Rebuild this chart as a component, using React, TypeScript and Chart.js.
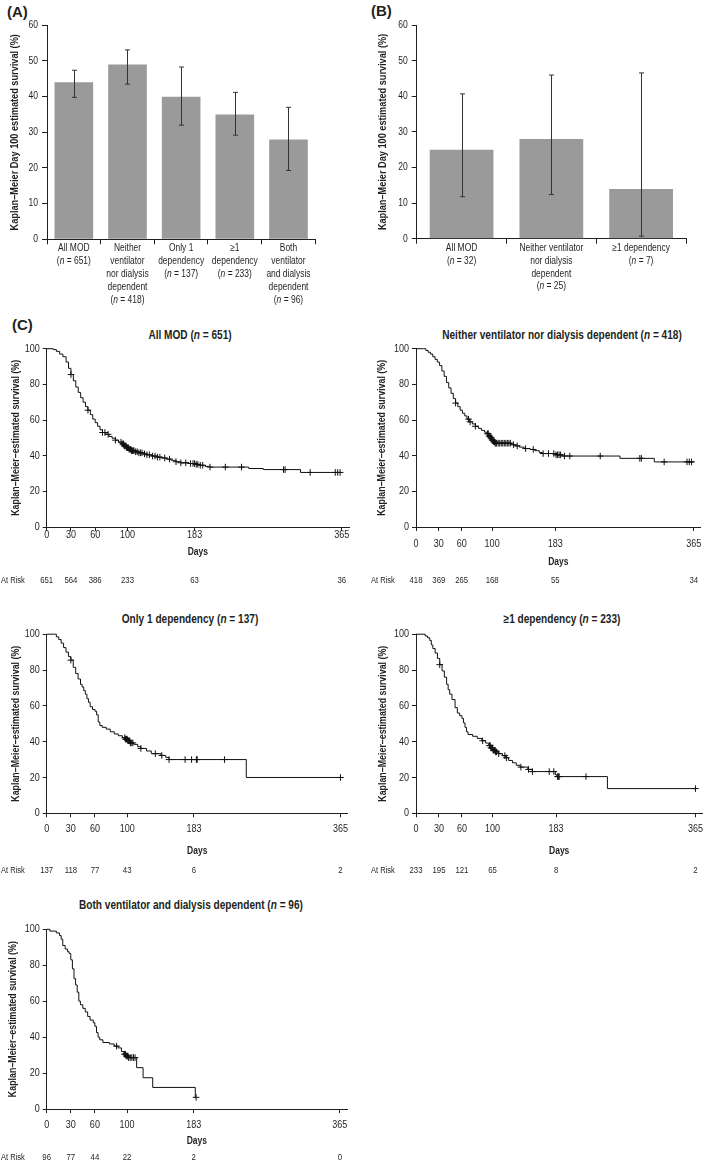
import React, { useEffect, useRef } from 'react';
import { Chart, registerables } from 'chart.js';
Chart.register(...registerables);

const FONT = '"Liberation Sans", Arial, Helvetica, sans-serif';
const INK = '#231f20';
const BAR = '#9a9a9a';
const SX = 0.82; // horizontal condensing of text (Helvetica Condensed look)

// ---------- Panel A ----------
const catsA = [
  ['All MOD', '(n = 651)'],
  ['Neither', 'ventilator', 'nor dialysis', 'dependent', '(n = 418)'],
  ['Only 1', 'dependency', '(n = 137)'],
  ['≥1', 'dependency', '(n = 233)'],
  ['Both', 'ventilator', 'and dialysis', 'dependent', '(n = 96)'],
];
const survA = [44, 49, 40, 35, 28];
const lowA = [39.8, 43.5, 32, 29.2, 19.3];
const highA = [47.4, 53.1, 48.3, 41.2, 37];

// ---------- Panel B ----------
const catsB = [
  ['All MOD', '(n = 32)'],
  ['Neither ventilator', 'nor dialysis', 'dependent', '(n = 25)'],
  ['≥1 dependency', '(n = 7)'],
];
const survB = [25, 28, 14];
const lowB = [11.8, 12.4, 0.7];
const highB = [40.7, 46, 46.6];

// ---------- Panel C ----------
const dayTicks = [0, 30, 60, 100, 183, 365];

const allModDays = [0, 8, 12, 16, 20, 24, 27, 30, 33, 36, 39, 42, 45, 48, 51, 54, 57, 60, 63, 66, 69, 73, 77, 81, 85, 89, 93, 96, 99, 102, 105, 109, 114, 119, 124, 130, 136, 142, 148, 154, 160, 166, 176, 184, 190, 196, 202, 250, 268, 314, 365];
const allModSurv = [100, 99.5, 98.5, 97, 95.5, 92.5, 89, 85.5, 82, 78.5, 75.5, 72.5, 70, 67.5, 65.5, 63, 60.5, 58.5, 56.5, 54.5, 53, 52, 50.8, 49.8, 48.7, 47.6, 46.6, 45.5, 44.5, 43.6, 42.8, 42.2, 41.6, 41, 40.5, 39.8, 39.2, 38.7, 38.1, 37.4, 36.6, 36, 35.6, 35.1, 34.6, 34, 33.6, 32.8, 32.2, 30.6, 30.6];
const allModCensor = [30, 51, 69, 72, 76, 85, 92, 94, 95, 96, 97, 98, 99, 100, 101, 102, 103, 104, 105, 106, 107, 108, 110, 112, 114, 116, 118, 121, 124, 127, 131, 134, 137, 140, 146, 152, 160, 166, 172, 178, 181, 183, 185, 187, 190, 193, 202, 221, 241, 293, 295, 326, 357, 360, 363];
const allModRisk = [651, 564, 386, 233, 63, 36];

const neitherDays = [0, 10, 13, 16, 19, 22, 25, 28, 31, 34, 37, 40, 43, 46, 49, 52, 55, 58, 61, 64, 67, 70, 74, 78, 82, 86, 90, 93, 96, 98, 100, 102, 104, 125, 130, 136, 142, 150, 156, 162, 166, 184, 192, 268, 313, 365];
const neitherSurv = [100, 100, 99, 98, 97, 95.5, 94, 92.5, 90.5, 87.5, 84.5, 81, 78, 75, 72, 69.5, 67.5, 65.5, 63.8, 62.3, 60.5, 59, 57.8, 56.5, 55.3, 54.2, 53.2, 52.3, 51, 50, 48.8, 47.8, 47, 46.2, 45.5, 44.8, 44, 43.5, 42.8, 41.8, 41.2, 40.5, 39.8, 38.5, 36.5, 36.5];
const neitherCensor = [52, 69, 71, 78, 94, 95, 96, 97, 98, 99, 100, 101, 102, 103, 104, 105, 106, 108, 110, 112, 114, 116, 118, 120, 122, 124, 128, 133, 144, 154, 167, 174, 181, 184, 186, 188, 190, 195, 202, 242, 294, 296, 326, 356, 359, 362];
const neitherRisk = [418, 369, 265, 168, 55, 34];

const only1Days = [0, 10, 12, 15, 18, 21, 24, 27, 30, 33, 36, 39, 42, 44, 46, 48, 50, 52, 54, 57, 60, 62, 64, 66, 69, 74, 79, 84, 89, 94, 98, 101, 104, 108, 113, 117, 124, 130, 142, 148, 152, 248, 365];
const only1Surv = [100, 100, 98.5, 97, 95, 92.5, 90, 87.5, 85.5, 81.5, 78, 75, 72, 70.5, 68.5, 66.5, 64, 62, 59.5, 58, 57, 55, 51, 49, 48, 47, 45.5, 44.3, 43.3, 42.2, 41.4, 40.5, 39.3, 38.5, 37.2, 36.2, 34.8, 33.3, 32.3, 31.2, 30, 20, 20];
const only1Censor = [30, 97, 98, 99, 100, 101, 102, 103, 104, 105, 107, 117, 135, 143, 152, 172, 180, 186, 187, 221, 365];
const only1Risk = [137, 118, 77, 43, 6, 2];

const ge1Days = [0, 12, 15, 18, 20, 22, 25, 28, 31, 34, 37, 40, 42, 44, 47, 51, 54, 57, 60, 62, 64, 66, 68, 74, 80, 86, 91, 95, 98, 101, 104, 108, 113, 117, 121, 126, 131, 136, 146, 152, 182, 184, 250, 365];
const ge1Surv = [100, 99, 98, 96.5, 94, 92, 89.5, 86.5, 83, 79.5, 76, 72, 69, 66.5, 63.5, 59, 56, 54.5, 53, 50.5, 48, 45.5, 44, 43, 41.8, 40.5, 39.2, 37.8, 36.5, 35.2, 34.3, 33.3, 32.2, 31, 29.5, 28.2, 26.8, 25.8, 24.5, 23.3, 21.5, 20.5, 13.8, 13.8];
const ge1Censor = [31, 87, 96, 97, 98, 99, 100, 101, 102, 103, 104, 105, 108, 116, 118, 137, 147, 152, 174, 180, 185, 186, 187, 222, 365];
const ge1Risk = [233, 195, 121, 65, 8, 2];

const bothDays = [0, 4, 12, 16, 18, 20, 23, 26, 28, 30, 32, 34, 36, 38, 40, 42, 45, 48, 51, 54, 58, 60, 62, 64, 66, 70, 78, 84, 89, 93, 96, 99, 102, 112, 120, 132, 185, 186];
const bothSurv = [100, 99, 98, 96.5, 94.5, 91, 89, 87.5, 86.5, 83, 78, 72.5, 69, 65, 60, 58, 56, 54, 51.5, 49.5, 48, 46, 42.5, 40, 38.5, 37, 36.2, 35, 34, 32, 30.5, 29.5, 28.6, 23, 17.4, 12, 6.5, 6.5];
const bothCensor = [87, 97, 98, 99, 100, 101, 102, 104, 106, 108, 110, 186];
const bothRisk = [96, 77, 44, 22, 2, 0];

function survAt(days: number[], surv: number[], t: number) {
  let v = surv[0];
  for (let i = 0; i < days.length; i++) {
    if (days[i] <= t) v = surv[i];
    else break;
  }
  return v;
}

// Draw all canvas text horizontally condensed around its anchor point.
function condense(canvas: HTMLCanvasElement) {
  const ctx = canvas.getContext('2d') as any;
  if (!ctx || ctx.__condensed) return;
  ctx.__condensed = true;
  const fill = ctx.fillText.bind(ctx);
  const measure = ctx.measureText.bind(ctx);
  ctx.fillText = (text: string, x: number, y: number, maxWidth?: number) => {
    ctx.save();
    ctx.translate(x, y);
    ctx.scale(SX, 1);
    if (maxWidth !== undefined && maxWidth !== null) fill(text, 0, 0, maxWidth / SX);
    else fill(text, 0, 0);
    ctx.restore();
  };
  ctx.measureText = (text: string) => {
    const m = measure(text);
    return {
      width: m.width * SX,
      actualBoundingBoxAscent: m.actualBoundingBoxAscent,
      actualBoundingBoxDescent: m.actualBoundingBoxDescent,
      actualBoundingBoxLeft: m.actualBoundingBoxLeft * SX,
      actualBoundingBoxRight: m.actualBoundingBoxRight * SX,
      fontBoundingBoxAscent: m.fontBoundingBoxAscent,
      fontBoundingBoxDescent: m.fontBoundingBoxDescent,
    };
  };
}

function drawRich(ctx: CanvasRenderingContext2D, text: string, x: number, y: number, size: number, weight: string) {
  const base = `${weight} ${size}px ${FONT}`;
  const ital = `italic ${weight} ${size}px ${FONT}`;
  const idx = text.indexOf('(n ');
  const parts: [string, string][] = idx >= 0
    ? [[text.slice(0, idx + 1), base], ['n', ital], [text.slice(idx + 2), base]]
    : [[text, base]];
  let total = 0;
  for (const [s, f] of parts) { ctx.font = f; total += ctx.measureText(s).width; }
  let cx = x - total / 2;
  ctx.textAlign = 'left';
  for (const [s, f] of parts) { ctx.font = f; ctx.fillText(s, cx, y); cx += ctx.measureText(s).width; }
}

type Area = { l: number; t: number; r: number; b: number };

type BarProps = {
  left: number; top: number; width: number; height: number; area: Area;
  cats: string[][]; vals: number[]; lows: number[]; highs: number[];
  barPct: number; firstOff: number; gap: number; yTitleX: number;
};

function BarPanel(p: BarProps) {
  const ref = useRef<HTMLCanvasElement>(null);
  useEffect(() => {
    const { area } = p;
    const yTitleSize = 11.2;
    condense(ref.current!);
    const extras = {
      id: 'barExtras',
      afterDraw(chart: any) {
        const ctx = chart.ctx as CanvasRenderingContext2D;
        const xs = chart.scales.x, ys = chart.scales.y;
        ctx.save();
        ctx.strokeStyle = '#333';
        ctx.lineWidth = 1;
        p.lows.forEach((lo, i) => {
          const px = Math.round(xs.getPixelForValue(i)) + 0.5;
          const yl = ys.getPixelForValue(lo);
          const yh = ys.getPixelForValue(p.highs[i]);
          ctx.beginPath();
          ctx.moveTo(px, yl); ctx.lineTo(px, yh);
          ctx.moveTo(px - 2.5, yl); ctx.lineTo(px + 2.5, yl);
          ctx.moveTo(px - 2.5, yh); ctx.lineTo(px + 2.5, yh);
          ctx.stroke();
        });
        ctx.fillStyle = INK;
        ctx.textBaseline = 'middle';
        p.cats.forEach((lines, i) => {
          const px = xs.getPixelForValue(i);
          lines.forEach((ln, j) => drawRich(ctx, ln, px, chart.chartArea.bottom + p.firstOff + j * p.gap, 10.3, 'normal'));
        });
        ctx.restore();
      },
    };
    const chart = new Chart(ref.current!, {
      type: 'bar',
      data: {
        labels: p.cats.map((c) => c.join(' ')),
        datasets: [{ data: p.vals, backgroundColor: BAR, borderWidth: 0, barPercentage: p.barPct, categoryPercentage: 1 }],
      },
      options: {
        responsive: false,
        animation: false,
        events: [],
        layout: { padding: { left: 0, top: area.t, right: p.width - area.r, bottom: 0 } },
        plugins: { legend: { display: false }, tooltip: { enabled: false } },
        scales: {
          x: {
            afterFit: (s: any) => { s.height = p.height - area.b; },
            ticks: { display: false },
            grid: { offset: true, drawOnChartArea: false, drawTicks: true, tickLength: 5, color: INK },
            border: { display: true, color: INK, width: 1 },
          },
          y: {
            min: 0, max: 60,
            afterFit: (s: any) => { s.width = area.l; },
            ticks: { stepSize: 10, font: { family: FONT, size: 10.4 }, color: INK, padding: 4 },
            grid: { drawOnChartArea: false, drawTicks: true, tickLength: 5, color: INK },
            border: { display: true, color: INK, width: 1 },
            title: {
              display: true, text: 'Kaplan–Meier Day 100 estimated survival (%)', color: INK,
              font: { family: FONT, size: yTitleSize, weight: 'bold', lineHeight: 1 },
              padding: { top: p.yTitleX - yTitleSize / 2, bottom: 0 },
            },
          },
        },
      } as any,
      plugins: [extras],
    });
    return () => chart.destroy();
  }, []);
  return (
    <canvas ref={ref} width={p.width} height={p.height}
      style={{ position: 'absolute', left: p.left, top: p.top, width: p.width, height: p.height }} />
  );
}

type KMProps = {
  left: number; top: number; width: number; height: number; area: Area;
  days: number[]; surv: number[]; censor: number[]; atRisk: number[];
  tickOff: number; daysOff: number; riskOff: number; riskX: number; yTitleX: number;
};

function KMPanel(p: KMProps) {
  const ref = useRef<HTMLCanvasElement>(null);
  useEffect(() => {
    const { area } = p;
    const tickSize = 11, titleSize = 10.4, yTitleSize = 10.8;
    const xH = p.daysOff + titleSize / 2;
    condense(ref.current!);
    const risk = {
      id: 'atRisk',
      afterDraw(chart: any) {
        const ctx = chart.ctx as CanvasRenderingContext2D;
        const xs = chart.scales.x;
        ctx.save();
        ctx.fillStyle = INK;
        ctx.textBaseline = 'middle';
        const y = area.b + p.riskOff;
        ctx.font = `9.2px ${FONT}`;
        ctx.textAlign = 'left';
        ctx.fillText('At Risk', p.riskX, y);
        ctx.font = `9.5px ${FONT}`;
        ctx.textAlign = 'center';
        dayTicks.forEach((d, i) => ctx.fillText(String(p.atRisk[i]), xs.getPixelForValue(d), y));
        ctx.restore();
      },
    };
    const chart = new Chart(ref.current!, {
      type: 'scatter',
      data: {
        datasets: [
          {
            data: p.days.map((d, i) => ({ x: d, y: p.surv[i] })),
            showLine: true, stepped: true, borderColor: '#111', borderWidth: 1,
            pointRadius: 0, fill: false, clip: 5,
          },
          {
            data: p.censor.map((t) => ({ x: t, y: survAt(p.days, p.surv, t) })),
            showLine: false, pointStyle: 'cross', pointRadius: 3.3,
            borderColor: '#111', borderWidth: 1, clip: 5,
          },
        ],
      },
      options: {
        responsive: false,
        animation: false,
        events: [],
        layout: { padding: { left: 0, top: area.t, right: p.width - area.r, bottom: p.height - area.b - xH } },
        plugins: { legend: { display: false }, tooltip: { enabled: false } },
        scales: {
          x: {
            type: 'linear', min: 0, max: 374,
            afterBuildTicks: (s: any) => { s.ticks = dayTicks.map((v) => ({ value: v })); },
            afterFit: (s: any) => { s.height = xH; },
            ticks: {
              font: { family: FONT, size: tickSize, lineHeight: 1 }, color: INK,
              padding: p.tickOff - 4 - tickSize / 2, maxRotation: 0, autoSkip: false,
            },
            grid: { drawOnChartArea: false, drawTicks: true, tickLength: 4, color: INK },
            border: { display: true, color: INK, width: 1 },
            title: {
              display: true, text: 'Days', color: INK,
              font: { family: FONT, size: titleSize, weight: 'bold', lineHeight: 1 },
              padding: { top: 0, bottom: 0 },
            },
          },
          y: {
            min: 0, max: 100,
            afterFit: (s: any) => { s.width = area.l; },
            ticks: { stepSize: 20, font: { family: FONT, size: tickSize }, color: INK, padding: 3 },
            grid: { drawOnChartArea: false, drawTicks: true, tickLength: 4, color: INK },
            border: { display: true, color: INK, width: 1 },
            title: {
              display: true, text: 'Kaplan–Meier–estimated survival (%)', color: INK,
              font: { family: FONT, size: yTitleSize, weight: 'bold', lineHeight: 1 },
              padding: { top: p.yTitleX - yTitleSize / 2, bottom: 0 },
            },
          },
        },
      } as any,
      plugins: [risk],
    });
    return () => chart.destroy();
  }, []);
  return (
    <canvas ref={ref} width={p.width} height={p.height}
      style={{ position: 'absolute', left: p.left, top: p.top, width: p.width, height: p.height }} />
  );
}

function Title({ x, y, text, n }: { x: number; y: number; text: string; n: string }) {
  return (
    <div style={{
      position: 'absolute', left: x, top: y, transform: `translate(-50%, -50%) scaleX(${SX})`,
      font: `bold 12.3px ${FONT}`, color: INK, whiteSpace: 'nowrap', lineHeight: '14px',
    }}>
      {text} (<i>n</i> = {n})
    </div>
  );
}

function Letter({ x, y, t }: { x: number; y: number; t: string }) {
  return (
    <div style={{
      position: 'absolute', left: x, top: y, transform: 'translateY(-50%)',
      font: `bold 15px ${FONT}`, color: INK, lineHeight: '18px',
    }}>{t}</div>
  );
}

export default function App() {
  useEffect(() => { document.body.style.margin = '0'; }, []);
  return (
    <div style={{ position: 'absolute', left: 0, top: 0, width: 709, height: 1161, overflow: 'hidden', background: '#fff' }}>
      <Letter x={7} y={11.5} t="(A)" />
      <Letter x={371} y={11} t="(B)" />
      <Letter x={12} y={325} t="(C)" />

      <BarPanel left={0} top={15} width={354} height={300}
        area={{ l: 47, t: 10.3, r: 315.3, b: 224.3 }}
        cats={catsA} vals={survA} lows={lowA} highs={highA}
        barPct={0.72} firstOff={9} gap={13} yTitleX={15} />
      <BarPanel left={354} top={15} width={355} height={300}
        area={{ l: 62.7, t: 9.7, r: 332, b: 223.7 }}
        cats={catsB} vals={survB} lows={lowB} highs={highB}
        barPct={0.71} firstOff={9.6} gap={12.7} yTitleX={29.3} />

      <Title x={190} y={335} text="All MOD" n="651" />
      <Title x={561.8} y={335} text="Neither ventilator nor dialysis dependent" n="418" />
      <Title x={190} y={619} text="Only 1 dependency" n="137" />
      <Title x={562} y={619} text="≥1 dependency" n="233" />
      <Title x={190.7} y={905} text="Both ventilator and dialysis dependent" n="96" />

      <KMPanel left={0} top={338} width={354} height={250}
        area={{ l: 46.7, t: 10.7, r: 350.5, b: 189 }}
        days={allModDays} surv={allModSurv} censor={allModCensor} atRisk={allModRisk}
        tickOff={8} daysOff={24.7} riskOff={53} riskX={1} yTitleX={16} />
      <KMPanel left={354} top={338} width={355} height={250}
        area={{ l: 62, t: 10.7, r: 352, b: 189 }}
        days={neitherDays} surv={neitherSurv} censor={neitherCensor} atRisk={neitherRisk}
        tickOff={17} daysOff={34.7} riskOff={53} riskX={17} yTitleX={28} />
      <KMPanel left={0} top={624} width={354} height={258}
        area={{ l: 46.7, t: 10.2, r: 350.5, b: 189.3 }}
        days={only1Days} surv={only1Surv} censor={only1Censor} atRisk={only1Risk}
        tickOff={15.4} daysOff={37.4} riskOff={56.7} riskX={1} yTitleX={16} />
      <KMPanel left={354} top={624} width={355} height={258}
        area={{ l: 62, t: 10.2, r: 352, b: 189.3 }}
        days={ge1Days} surv={ge1Surv} censor={ge1Censor} atRisk={ge1Risk}
        tickOff={15.4} daysOff={37.4} riskOff={56.7} riskX={17} yTitleX={29.3} />
      <KMPanel left={0} top={919} width={354} height={242}
        area={{ l: 46.7, t: 10.3, r: 350.5, b: 190 }}
        days={bothDays} surv={bothSurv} censor={bothCensor} atRisk={bothRisk}
        tickOff={16} daysOff={32} riskOff={48.4} riskX={1} yTitleX={13} />
    </div>
  );
}
